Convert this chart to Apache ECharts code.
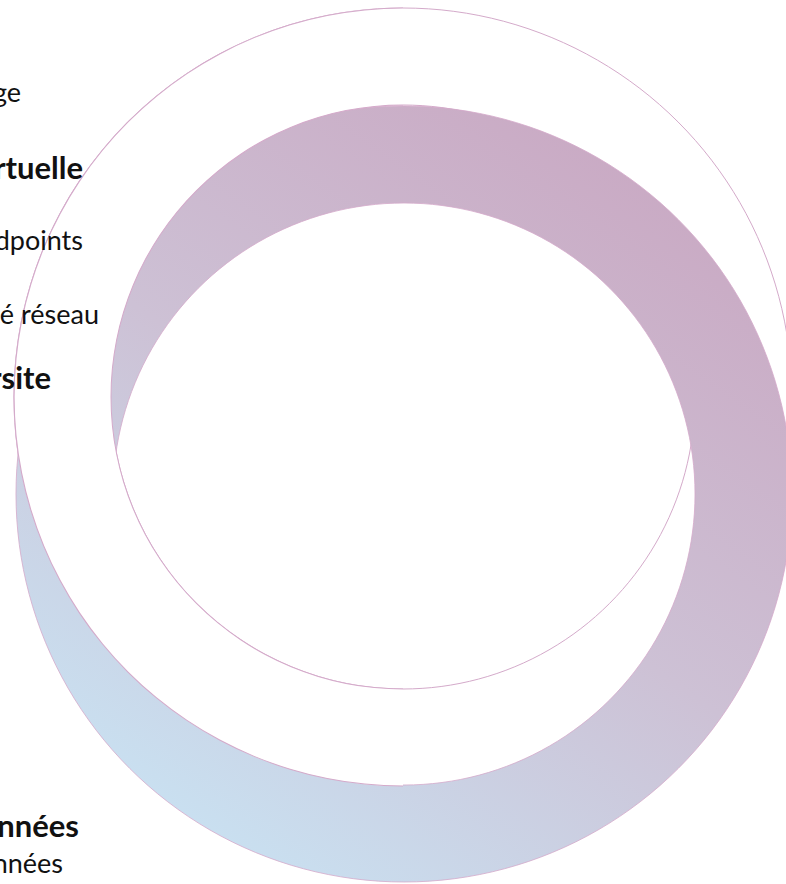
<!DOCTYPE html>
<html>
<head>
<meta charset="utf-8">
<script src="https://cdn.jsdelivr.net/npm/echarts@6/dist/echarts.min.js"></script>
<style>
  html, body { margin: 0; padding: 0; background: #ffffff; }
  #chart { width: 786px; height: 884px; }
</style>
</head>
<body>
<div id="chart"></div>
<script>
// ---- data ----
const regularLabels = ['Sécurité du stockage', 'Protection des endpoints', 'Sécurité réseau', 'Sauvegarde des données'];
const boldLabels = ['Infrastructure virtuelle', 'Réplication intersite', 'Protection des données'];
const ringValue = [1];          // one full ring
const halfValues = [1, 1];      // right half / left half

// ---- layout & style ----
const regularPos = [[21, 100], [83, 248], [99, 322], [63, 871]];  // right end x, baseline y
const boldPos = [[83, 177], [51, 387], [79, 835]];
const ringFront = { center: [403, 397], inner: 292, outer: 389 };
const ringBack = { center: [404, 494], inner: 291, outer: 388 };
const strokeColor = '#d4aaca';
const regSize = 27, boldSize = 31;

const chart = echarts.init(document.getElementById('chart'), null, { renderer: 'svg' });

const base = {
  type: 'pie', silent: true, animation: false,
  label: { show: false }, labelLine: { show: false },
  emphasis: { disabled: true }, startAngle: 90, clockwise: true,
  avoidLabelOverlap: false
};

const gradient = new echarts.graphic.LinearGradient(0.85, 0, 0.15, 1, [
  { offset: 0, color: '#c9a6c1' },
  { offset: 0.5, color: '#cdc1d5' },
  { offset: 1, color: '#c8e6f6' }
]);

const series = [
  // front ring (white) drawn first, full
  Object.assign({}, base, {
    z: 1, center: ringFront.center, radius: [ringFront.inner, ringFront.outer],
    data: ringValue.map(v => ({ value: v })),
    itemStyle: { color: '#ffffff', borderColor: strokeColor, borderWidth: 1 }
  }),
  // back ring with gradient
  Object.assign({}, base, {
    z: 2, center: ringBack.center, radius: [ringBack.inner, ringBack.outer],
    data: ringValue.map(v => ({ value: v })),
    itemStyle: { color: gradient, borderColor: strokeColor, borderWidth: 0.8 }
  }),
  // left half of the front ring goes over the back ring
  Object.assign({}, base, {
    z: 3, center: ringFront.center, radius: [ringFront.inner, ringFront.outer],
    data: halfValues.map((v, i) => ({ value: v, itemStyle: { color: i === 0 ? 'rgba(0,0,0,0)' : '#ffffff', borderWidth: 0 } }))
  }),
  // outline arcs for that left half
  Object.assign({}, base, {
    z: 4, center: ringFront.center, radius: [ringFront.outer - 0.5, ringFront.outer + 0.5],
    data: halfValues.map((v, i) => ({ value: v, itemStyle: { color: i === 0 ? 'rgba(0,0,0,0)' : strokeColor, borderWidth: 0 } }))
  }),
  Object.assign({}, base, {
    z: 4, center: ringFront.center, radius: [ringFront.inner - 0.5, ringFront.inner + 0.5],
    data: halfValues.map((v, i) => ({ value: v, itemStyle: { color: i === 0 ? 'rgba(0,0,0,0)' : strokeColor, borderWidth: 0 } }))
  })
];

const texts = [];
regularLabels.forEach((t, i) => {
  texts.push({
    type: 'text', z: 10, silent: true,
    style: {
      text: t, x: regularPos[i][0], y: regularPos[i][1] - regSize * 0.33,
      align: 'right', verticalAlign: 'middle',
      font: 'normal ' + regSize + 'px Lato, "Open Sans", sans-serif', fill: '#111111'
    }
  });
});
boldLabels.forEach((t, i) => {
  texts.push({
    type: 'text', z: 10, silent: true,
    style: {
      text: t, x: boldPos[i][0], y: boldPos[i][1] - boldSize * 0.33,
      align: 'right', verticalAlign: 'middle',
      font: 'bold ' + boldSize + 'px Lato, "Open Sans", sans-serif', fill: '#111111'
    }
  });
});

chart.setOption({
  backgroundColor: '#ffffff',
  animation: false,
  series: series,
  graphic: { elements: texts }
});
</script>
</body>
</html>
